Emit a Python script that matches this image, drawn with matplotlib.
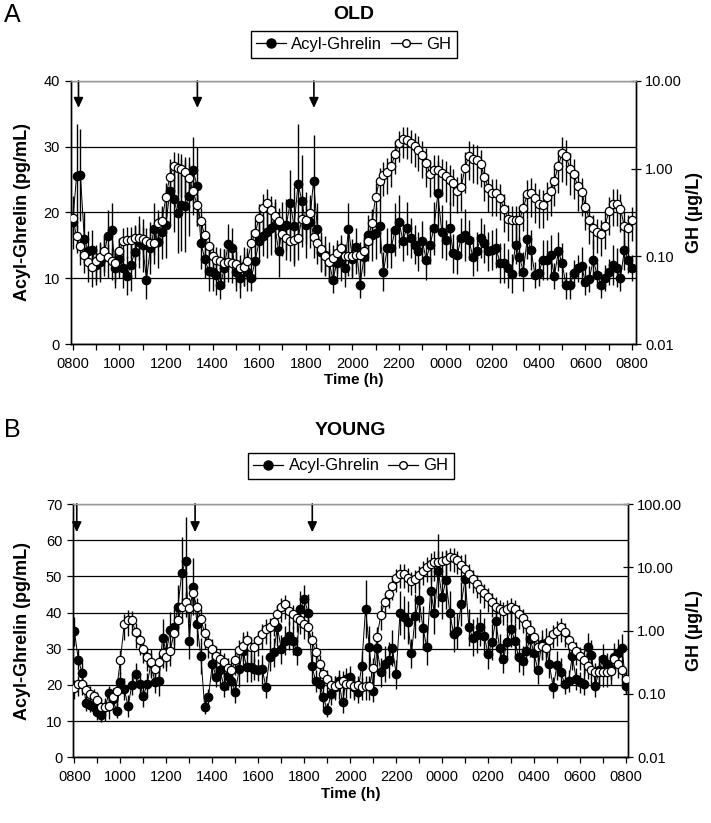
import numpy as np
import matplotlib
matplotlib.use("Agg")
import matplotlib.pyplot as plt
from matplotlib.lines import Line2D
from matplotlib.ticker import FixedLocator, FixedFormatter, NullLocator

plt.rcParams['font.family'] = ['Liberation Sans', 'DejaVu Sans']

# sampling every 10 min from 0800 to 0800 next day
minutes = np.arange(0, 24 * 60 + 1, 10)
hours = 8 + minutes / 60.0

hour_ticks = list(range(8, 33))
hour_labels = ["%02d00" % (h % 24) if (h - 8) % 2 == 0 else "" for h in hour_ticks]

# ---------------- OLD ----------------
old_ghrelin = [18.5, 25.5, 25.7, 16.0, 14.2, 14.3, 12.0, 12.5, 13.3, 16.4,
               17.4, 11.5, 13.0, 11.5, 10.4, 12.0, 14.0, 15.5, 15.0, 9.8,
               14.6, 17.5, 15.5, 17.0, 18.1, 23.2, 22.0, 19.9, 21.2, 21.0,
               22.5, 26.5, 24.0, 15.4, 13.0, 11.1, 11.0, 10.5, 8.9, 11.5,
               15.2, 14.6, 11.0, 10.0, 11.8, 11.0, 10.1, 12.7, 15.6, 16.4,
               17.1, 17.6, 18.1, 14.2, 17.6, 18.1, 21.5, 17.9, 24.4, 21.8,
               18.1, 18.6, 24.8, 17.5, 14.0, 13.5, 12.5, 9.8, 12.3, 12.6,
               11.6, 17.5, 13.0, 14.7, 9.0, 13.3, 16.6, 16.6, 16.9, 17.9,
               11.0, 14.6, 14.6, 17.4, 18.6, 15.7, 17.6, 16.1, 15.1, 14.1,
               15.7, 12.8, 15.1, 17.6, 22.9, 17.1, 15.8, 17.6, 13.8, 13.6,
               16.1, 16.6, 15.8, 13.3, 14.1, 16.1, 15.3, 14.1, 14.3, 14.6,
               12.3, 12.3, 11.5, 10.7, 15.1, 13.3, 11.0, 16.0, 14.3, 10.5,
               10.8, 12.8, 12.8, 13.6, 10.3, 14.1, 12.3, 8.9, 8.9, 10.8,
               11.5, 11.8, 9.4, 9.9, 12.8, 10.5, 9.0, 10.0, 11.0, 12.0,
               11.6, 10.0, 14.3, 12.8, 11.6]
old_ghrelin_err = [4, 8, 7, 4, 3, 3, 3, 3, 3, 4,
                   4, 3, 3, 3, 3, 4, 4, 4, 4, 3,
                   4, 4, 4, 4, 5, 5, 5, 6, 7, 7,
                   6, 5, 6, 4, 3, 3, 3, 3, 2, 3,
                   3, 3, 3, 3, 3, 3, 2, 3, 3, 3,
                   4, 4, 4, 4, 4, 4, 5, 6, 9, 7,
                   5, 4, 7, 4, 3, 3, 3, 2, 3, 3,
                   3, 4, 3, 3, 2, 3, 3, 4, 4, 4,
                   3, 3, 3, 4, 4, 3, 4, 3, 3, 3,
                   3, 3, 3, 4, 5, 4, 3, 4, 3, 3,
                   3, 4, 3, 3, 3, 3, 3, 3, 3, 3,
                   3, 3, 3, 3, 3, 3, 3, 3, 3, 2,
                   2, 3, 3, 3, 2, 3, 3, 2, 2, 2,
                   2, 3, 2, 2, 3, 2, 2, 2, 2, 3,
                   3, 2, 3, 2, 2]
old_gh = [0.277, 0.169, 0.130, 0.104, 0.086, 0.075, 0.088, 0.097, 0.116, 0.097,
          0.089, 0.085, 0.114, 0.148, 0.155, 0.155, 0.160, 0.162, 0.158, 0.148,
          0.141, 0.141, 0.239, 0.250, 0.480, 0.810, 1.060, 1.020, 0.980, 0.920,
          0.780, 0.550, 0.390, 0.250, 0.173, 0.130, 0.100, 0.092, 0.088, 0.085,
          0.086, 0.085, 0.082, 0.073, 0.076, 0.089, 0.142, 0.185, 0.277, 0.360,
          0.410, 0.340, 0.290, 0.250, 0.180, 0.160, 0.148, 0.155, 0.160, 0.270,
          0.260, 0.310, 0.166, 0.142, 0.120, 0.100, 0.086, 0.095, 0.110, 0.125,
          0.100, 0.100, 0.100, 0.103, 0.104, 0.115, 0.148, 0.240, 0.480, 0.730,
          0.840, 0.920, 1.070, 1.460, 1.950, 2.170, 2.140, 1.950, 1.790, 1.640,
          1.430, 1.160, 0.870, 0.970, 0.970, 0.890, 0.820, 0.740, 0.680, 0.560,
          0.610, 1.030, 1.400, 1.290, 1.260, 1.120, 0.810, 0.600, 0.530, 0.530,
          0.460, 0.350, 0.270, 0.260, 0.260, 0.260, 0.355, 0.510, 0.530, 0.460,
          0.400, 0.390, 0.480, 0.550, 0.730, 1.080, 1.500, 1.400, 1.000, 0.865,
          0.630, 0.540, 0.370, 0.260, 0.210, 0.190, 0.180, 0.220, 0.325, 0.400,
          0.400, 0.350, 0.220, 0.210, 0.260]
old_gh_err = [0.10, 0.06, 0.05, 0.04, 0.035, 0.03, 0.035, 0.04, 0.05, 0.04,
              0.035, 0.035, 0.05, 0.06, 0.06, 0.06, 0.07, 0.07, 0.06, 0.06,
              0.06, 0.06, 0.10, 0.11, 0.20, 0.35, 0.50, 0.50, 0.50, 0.45,
              0.35, 0.25, 0.17, 0.11, 0.07, 0.05, 0.04, 0.035, 0.035, 0.035,
              0.035, 0.035, 0.035, 0.03, 0.03, 0.035, 0.06, 0.08, 0.12, 0.16,
              0.18, 0.15, 0.13, 0.11, 0.08, 0.07, 0.06, 0.07, 0.07, 0.12,
              0.12, 0.14, 0.07, 0.06, 0.05, 0.04, 0.035, 0.04, 0.045, 0.05,
              0.04, 0.04, 0.04, 0.04, 0.04, 0.05, 0.06, 0.10, 0.20, 0.30,
              0.35, 0.40, 0.45, 0.60, 0.75, 0.85, 0.85, 0.80, 0.75, 0.70,
              0.65, 0.55, 0.40, 0.45, 0.45, 0.40, 0.40, 0.35, 0.30, 0.25,
              0.28, 0.50, 0.65, 0.60, 0.60, 0.50, 0.38, 0.28, 0.24, 0.24,
              0.20, 0.16, 0.12, 0.12, 0.12, 0.12, 0.16, 0.24, 0.25, 0.22,
              0.19, 0.18, 0.22, 0.26, 0.35, 0.55, 0.80, 0.75, 0.50, 0.42,
              0.30, 0.25, 0.17, 0.12, 0.09, 0.08, 0.08, 0.10, 0.15, 0.18,
              0.18, 0.16, 0.10, 0.09, 0.11]
old_meals = [8.25, 13.35, 18.35]

# ---------------- YOUNG ----------------
young_ghrelin = [34.8, 27.0, 23.3, 14.9, 14.5, 13.8, 12.4, 11.7, 13.8, 17.7,
                 16.1, 12.9, 20.7, 18.9, 14.1, 20.1, 23.0, 20.3, 17.0, 20.3,
                 26.0, 20.7, 21.0, 33.1, 29.0, 35.2, 36.0, 41.6, 50.8, 54.3,
                 32.2, 47.2, 36.8, 27.9, 14.0, 16.8, 25.8, 22.3, 24.1, 19.8,
                 22.6, 21.2, 18.0, 24.4, 29.5, 24.9, 24.9, 24.4, 24.2, 24.4,
                 19.5, 27.8, 29.0, 35.9, 29.9, 32.2, 33.6, 32.2, 29.5, 41.0,
                 43.7, 40.0, 25.3, 21.0, 20.4, 16.6, 13.1, 17.5, 19.5, 21.2,
                 15.2, 21.6, 22.3, 19.3, 18.0, 25.3, 41.0, 30.4, 18.4, 30.2,
                 23.5, 25.8, 27.0, 30.2, 23.0, 39.9, 38.7, 37.3, 28.7, 39.1,
                 43.5, 35.7, 30.4, 46.0, 40.0, 51.6, 44.2, 49.0, 39.9, 34.1,
                 34.8, 42.4, 49.3, 35.9, 33.1, 33.9, 35.9, 33.6, 28.5, 31.8,
                 37.8, 30.2, 27.2, 32.0, 35.5, 32.2, 27.6, 26.7, 29.5, 32.7,
                 28.7, 24.2, 31.3, 31.6, 25.8, 19.3, 25.5, 23.5, 20.4, 21.0,
                 28.1, 21.6, 20.7, 20.3, 30.4, 28.4, 19.8, 24.0, 27.2, 25.8,
                 24.4, 27.6, 28.8, 30.1, 19.8]
young_ghrelin_err = [4, 3, 3, 2, 2, 2, 2, 2, 2, 2,
                     2, 2, 3, 3, 3, 3, 3, 3, 3, 3,
                     4, 3, 4, 5, 4, 5, 5, 6, 10, 12,
                     5, 8, 6, 5, 2, 2, 4, 3, 4, 3,
                     4, 3, 3, 5, 5, 4, 4, 3, 3, 4,
                     3, 4, 4, 5, 4, 4, 4, 4, 4, 5,
                     4, 5, 4, 3, 3, 3, 2, 3, 3, 3,
                     3, 3, 3, 3, 3, 4, 8, 6, 3, 5,
                     4, 5, 5, 5, 4, 6, 6, 6, 4, 6,
                     6, 6, 5, 7, 6, 10, 6, 8, 6, 5,
                     5, 6, 7, 5, 5, 5, 5, 5, 4, 5,
                     5, 4, 4, 5, 5, 5, 4, 4, 4, 5,
                     4, 4, 4, 4, 4, 3, 4, 4, 3, 3,
                     4, 3, 3, 3, 4, 4, 3, 4, 4, 3,
                     3, 4, 4, 4, 2]
young_gh = [0.124, 0.144, 0.146, 0.116, 0.100, 0.092, 0.079, 0.063, 0.062, 0.065,
            0.089, 0.113, 0.350, 1.270, 1.470, 1.450, 0.940, 0.710, 0.510, 0.380,
            0.320, 0.250, 0.320, 0.440, 0.380, 0.480, 0.910, 1.450, 2.330, 2.870,
            2.300, 3.940, 2.330, 1.530, 0.910, 0.650, 0.510, 0.400, 0.360, 0.320,
            0.260, 0.240, 0.340, 0.500, 0.580, 0.700, 0.560, 0.560, 0.700, 0.890,
            1.070, 1.130, 1.360, 1.820, 2.330, 2.600, 2.070, 1.820, 1.600, 1.480,
            1.270, 1.130, 0.700, 0.460, 0.300, 0.210, 0.170, 0.139, 0.136, 0.144,
            0.162, 0.146, 0.146, 0.136, 0.140, 0.130, 0.136, 0.136, 0.260, 0.800,
            1.780, 2.800, 3.800, 5.100, 6.800, 7.900, 7.900, 6.900, 6.000, 6.500,
            7.600, 8.800, 10.30, 11.30, 12.00, 12.00, 12.70, 13.20, 14.50, 14.20,
            13.00, 11.00, 9.400, 7.900, 6.500, 5.500, 4.500, 3.900, 3.400, 2.800,
            2.400, 2.160, 2.040, 2.200, 2.330, 2.200, 1.830, 1.570, 1.270, 1.030,
            0.790, 0.550, 0.580, 0.530, 0.700, 0.890, 1.000, 1.130, 0.940, 0.700,
            0.570, 0.480, 0.400, 0.350, 0.280, 0.240, 0.220, 0.220, 0.220, 0.220,
            0.230, 0.360, 0.300, 0.240, 0.170]
young_gh_err = [0.04, 0.05, 0.05, 0.04, 0.035, 0.03, 0.03, 0.025, 0.025, 0.025,
                0.035, 0.045, 0.15, 0.55, 0.65, 0.60, 0.40, 0.30, 0.20, 0.15,
                0.13, 0.10, 0.13, 0.18, 0.15, 0.20, 0.40, 0.60, 1.00, 1.20,
                1.00, 1.60, 1.00, 0.65, 0.40, 0.28, 0.22, 0.17, 0.15, 0.13,
                0.11, 0.10, 0.14, 0.20, 0.25, 0.30, 0.24, 0.24, 0.30, 0.38,
                0.45, 0.48, 0.55, 0.75, 0.95, 1.05, 0.85, 0.75, 0.65, 0.60,
                0.52, 0.46, 0.30, 0.19, 0.12, 0.09, 0.07, 0.055, 0.055, 0.06,
                0.065, 0.06, 0.06, 0.055, 0.055, 0.05, 0.055, 0.055, 0.11, 0.35,
                0.75, 1.15, 1.55, 2.10, 2.70, 3.20, 3.20, 2.80, 2.40, 2.60,
                3.00, 3.60, 4.50, 5.50, 6.00, 6.00, 5.50, 5.50, 5.80, 5.70,
                5.20, 4.40, 3.80, 3.20, 2.60, 2.20, 1.80, 1.60, 1.40, 1.15,
                0.95, 0.85, 0.80, 0.90, 0.95, 0.90, 0.75, 0.65, 0.52, 0.42,
                0.32, 0.22, 0.24, 0.22, 0.28, 0.36, 0.42, 0.46, 0.38, 0.28,
                0.23, 0.19, 0.16, 0.14, 0.11, 0.10, 0.09, 0.09, 0.09, 0.09,
                0.09, 0.15, 0.12, 0.10, 0.07]
young_meals = [8.1, 13.25, 18.35]


def draw_panel(fig, rect, ghrelin, ghrelin_err, gh, gh_err, ymax, ghmax,
               xlim, meals, arrow_tip, title, letter, title_y, legend_y,
               xlabel_y):
    ax = fig.add_axes(rect)
    ax2 = ax.twinx()

    # acyl-ghrelin on the left axis
    ax.errorbar(hours, ghrelin, yerr=ghrelin_err, fmt='none', ecolor='black',
                elinewidth=1.0, capsize=0, zorder=2)
    ax.plot(hours, ghrelin, color='black', lw=0.7, marker='o', ms=6,
            mfc='black', mec='black', zorder=3)

    # GH on the right (log) axis
    ax2.errorbar(hours, gh, yerr=gh_err, fmt='none', ecolor='black',
                 elinewidth=1.0, capsize=0, zorder=2)
    ax2.plot(hours, gh, color='black', lw=0.7, marker='o', ms=6,
             mfc='white', mec='black', mew=0.9, zorder=3)

    ax.set_xlim(*xlim)
    ax.set_ylim(0, ymax)
    ax2.set_yscale('log')
    ax2.set_ylim(0.01, ghmax)

    ax.xaxis.set_major_locator(FixedLocator(hour_ticks))
    ax.xaxis.set_major_formatter(FixedFormatter(hour_labels))
    ax.set_yticks(np.arange(0, ymax + 1, 10))
    ax.yaxis.grid(True, color='black', lw=0.9)
    ax.set_axisbelow(True)

    decades = [10.0 ** k for k in range(-2, int(round(np.log10(ghmax))) + 1)]
    ax2.yaxis.set_major_locator(FixedLocator(decades))
    ax2.yaxis.set_major_formatter(FixedFormatter(["%.2f" % d for d in decades]))
    ax2.yaxis.set_minor_locator(NullLocator())

    ax.tick_params(axis='x', direction='out', length=4, width=0.9,
                   labelsize=10.5, pad=5)
    ax.tick_params(axis='y', direction='out', length=4, width=0.9,
                   labelsize=10.5, pad=4)
    ax2.tick_params(axis='y', direction='inout', length=7, width=0.9,
                    labelsize=10.5, pad=3)

    for a in (ax, ax2):
        a.spines['top'].set_color('#999999')
        a.spines['top'].set_linewidth(0.9)
        for s in ('left', 'right', 'bottom'):
            a.spines[s].set_linewidth(1.0)

    # meal arrows
    for m in meals:
        ax.annotate('', xy=(m, arrow_tip), xytext=(m, ymax),
                    arrowprops=dict(arrowstyle='-|>,head_width=0.28,head_length=0.6',
                                    color='black', lw=1.2, shrinkA=0, shrinkB=0),
                    zorder=5)

    cx = rect[0] + rect[2] / 2
    cy = rect[1] + rect[3] / 2
    fig.text(cx, title_y, title, ha='center', va='center', fontsize=14,
             fontweight='bold')
    fig.text(0.006, title_y, letter, ha='left', va='center', fontsize=18)
    fig.text(cx, xlabel_y, 'Time (h)', ha='center', va='center', fontsize=11,
             fontweight='bold')
    fig.text(0.031, cy, 'Acyl-Ghrelin (pg/mL)', rotation=90, ha='center',
             va='center', fontsize=13, fontweight='bold')
    fig.text(0.977, cy, 'GH (\u00b5g/L)', rotation=90, ha='center',
             va='center', fontsize=13, fontweight='bold')

    handles = [Line2D([], [], color='black', lw=0.9, marker='o', ms=6.5,
                      mfc='black', mec='black'),
               Line2D([], [], color='black', lw=0.9, marker='o', ms=5.5,
                      mfc='white', mec='black')]
    fig.legend(handles, ['Acyl-Ghrelin', 'GH'], loc='center',
               bbox_to_anchor=(cx, legend_y), ncol=2, frameon=True,
               fancybox=False, edgecolor='black', framealpha=1,
               fontsize=12, handlelength=1.8, handletextpad=0.3,
               columnspacing=0.5, borderpad=0.35)
    return ax, ax2


fig = plt.figure(figsize=(7.11, 8.23), dpi=100)

draw_panel(fig, [0.0999, 0.5820, 0.7947, 0.3196],
           old_ghrelin, old_ghrelin_err, old_gh, old_gh_err,
           40, 10.0, (7.93, 32.17), old_meals, 35.9,
           'OLD', 'A', 0.982, 0.946, 0.5385)

draw_panel(fig, [0.1031, 0.0798, 0.7802, 0.3078],
           young_ghrelin, young_ghrelin_err, young_gh, young_gh_err,
           70, 100.0, (7.95, 32.09), young_meals, 62.2,
           'YOUNG', 'B', 0.4775, 0.4338, 0.035)

fig.savefig('out.png', dpi=100)
